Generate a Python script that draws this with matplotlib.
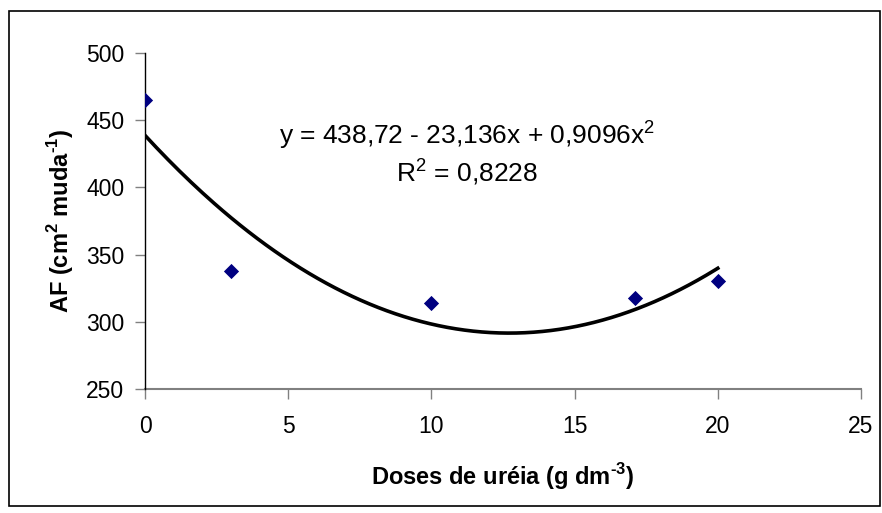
import numpy as np
import matplotlib
matplotlib.use("Agg")
import matplotlib.pyplot as plt
from matplotlib.patches import Rectangle

# Data
doses = [0, 3, 10, 17.1, 20]
af = [465, 338, 314, 318, 330]
# Trendline coefficients as printed on the chart (c0 + c1 x + c2 x^2)
coef = [438.72, -23.136, 0.9096]
eq_text = r"y = 438,72 - 23,136x + 0,9096x$^2$"
r2_text = r"R$^2$ = 0,8228"
xticks = [0, 5, 10, 15, 20, 25]
yticks = [250, 300, 350, 400, 450, 500]

plt.rcParams['font.family'] = ['Liberation Sans', 'DejaVu Sans']
plt.rcParams['mathtext.fontset'] = 'custom'
plt.rcParams['mathtext.rm'] = 'Liberation Sans'
plt.rcParams['mathtext.bf'] = 'Liberation Sans:bold'

fig = plt.figure(figsize=(8.82, 5.13), dpi=100)
fig.patches.append(Rectangle((9/882, 1 - 506/513), 871/882, 495/513,
                             transform=fig.transFigure, fill=False,
                             edgecolor='black', linewidth=1.2))
ax = fig.add_axes([145/882, 1 - 389/513, (861 - 145)/882, (389 - 53)/513])

xs = np.linspace(min(doses), max(doses), 200)
ys = np.polyval(coef[::-1], xs)
ax.plot(xs, ys, color='black', linewidth=2.6, zorder=2)
ax.scatter(doses, af, marker='D', s=60, color='#000080', zorder=3, linewidths=0)

ax.set_xlim(0, 25)
ax.set_ylim(250, 500)
ax.set_xticks(xticks)
ax.set_yticks(yticks)
ax.tick_params(axis='both', direction='out', length=7, width=1, labelsize=16.5,
               color='#808080', pad=8)
ax.tick_params(axis='x', pad=12)
for s in ['top', 'right']:
    ax.spines[s].set_visible(False)
ax.spines['left'].set_color('black')
ax.spines['bottom'].set_color('#808080')
ax.spines['left'].set_linewidth(1)
ax.spines['bottom'].set_linewidth(1.5)
ax.spines['bottom'].set_zorder(1)

ax.set_xlabel("Doses de uréia (g dm$^{\\mathbf{\u20103}}$)", fontsize=17, fontweight='bold', labelpad=16)
ax.set_ylabel("AF (cm$^{\\mathbf{2}}$ muda$^{\\mathbf{\u20101}}$)", fontsize=17, fontweight='bold', labelpad=7)

ax.text(11.25, 439, eq_text, fontsize=19, ha='center', va='center')
ax.text(11.25, 412, r2_text, fontsize=19, ha='center', va='center')

fig.savefig("out.png", dpi=100)
